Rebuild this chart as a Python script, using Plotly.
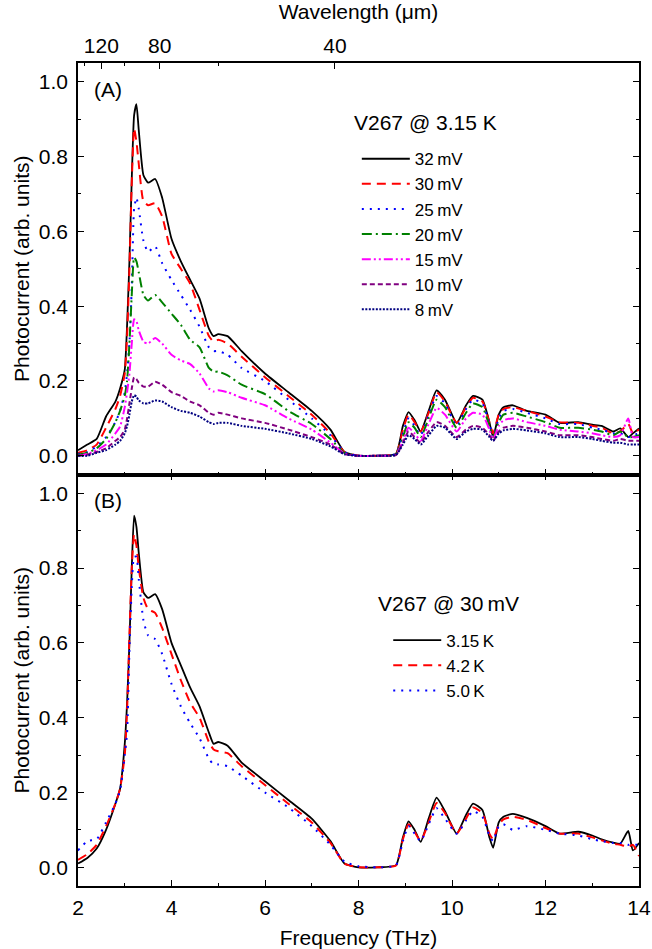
import plotly.graph_objects as go

# ---------------- data ----------------
freq = [2.0, 2.2, 2.4, 2.6, 2.8, 2.9, 3.0, 3.05, 3.1, 3.15,
        3.2, 3.25, 3.3, 3.4, 3.5, 3.65, 3.8, 4.0, 4.2, 4.4,
        4.6, 4.8, 4.9, 5.0, 5.2, 5.5, 6.0, 6.5, 7.0, 7.4,
        7.7, 8.0, 8.4, 8.8, 8.95, 9.07, 9.2, 9.33, 9.5, 9.67,
        9.85, 10.1, 10.3, 10.45, 10.65, 10.8, 10.88, 11.0, 11.1, 11.3,
        11.6, 12.0, 12.3, 12.7, 13.0, 13.2, 13.45, 13.6, 13.77, 13.87,
        14.0]

# Panel A: bias dependence at 3.15 K
pc_32mV = [0.015, 0.03, 0.045, 0.105, 0.145, 0.18, 0.23, 0.35, 0.52, 0.74,
           0.91, 0.94, 0.87, 0.75, 0.73, 0.74, 0.69, 0.58, 0.52, 0.47,
           0.42, 0.34, 0.32, 0.325, 0.32, 0.28, 0.22, 0.17, 0.12, 0.07,
           0.01, 0.0, 0.0, 0.005, 0.08, 0.117, 0.095, 0.065, 0.12, 0.175,
           0.15, 0.088, 0.135, 0.16, 0.15, 0.09, 0.05, 0.11, 0.13, 0.135,
           0.12, 0.11, 0.088, 0.09, 0.083, 0.08, 0.065, 0.073, 0.05, 0.06,
           0.073]
pc_30mV = [0.008, 0.015, 0.03, 0.075, 0.125, 0.16, 0.22, 0.32, 0.5, 0.73,
           0.875, 0.84, 0.78, 0.68, 0.67, 0.675, 0.64, 0.54, 0.5, 0.46,
           0.39, 0.32, 0.305, 0.31, 0.3, 0.265, 0.21, 0.16, 0.11, 0.06,
           0.01, 0.0, 0.0, 0.005, 0.07, 0.11, 0.09, 0.065, 0.115, 0.17,
           0.145, 0.088, 0.13, 0.155, 0.145, 0.09, 0.06, 0.11, 0.125, 0.13,
           0.12, 0.105, 0.09, 0.088, 0.08, 0.075, 0.06, 0.065, 0.085, 0.06,
           0.07]
pc_25mV = [0.005, 0.01, 0.025, 0.05, 0.09, 0.12, 0.17, 0.22, 0.3, 0.45,
           0.66, 0.69, 0.66, 0.575, 0.545, 0.56, 0.515, 0.47, 0.43, 0.39,
           0.345, 0.29, 0.28, 0.28, 0.27, 0.235, 0.2, 0.15, 0.1, 0.055,
           0.01, 0.0, 0.0, 0.005, 0.06, 0.1, 0.08, 0.055, 0.11, 0.16,
           0.14, 0.08, 0.125, 0.15, 0.14, 0.085, 0.05, 0.1, 0.12, 0.125,
           0.115, 0.1, 0.085, 0.085, 0.075, 0.07, 0.06, 0.06, 0.05, 0.055,
           0.06]
pc_20mV = [0.003, 0.008, 0.02, 0.045, 0.09, 0.12, 0.16, 0.2, 0.3, 0.43,
           0.53, 0.52, 0.49, 0.43, 0.415, 0.43, 0.41, 0.38, 0.35, 0.31,
           0.29, 0.235, 0.225, 0.225, 0.215, 0.19, 0.165, 0.12, 0.085, 0.045,
           0.008, 0.0, 0.0, 0.004, 0.05, 0.09, 0.075, 0.05, 0.1, 0.15,
           0.13, 0.075, 0.115, 0.14, 0.13, 0.08, 0.05, 0.09, 0.11, 0.115,
           0.105, 0.09, 0.075, 0.075, 0.07, 0.065, 0.055, 0.065, 0.05, 0.05,
           0.055]
pc_15mV = [0.0, 0.005, 0.015, 0.03, 0.06, 0.078, 0.13, 0.17, 0.22, 0.3,
           0.365, 0.36, 0.335, 0.305, 0.3, 0.315, 0.3, 0.27, 0.255, 0.245,
           0.22, 0.18, 0.172, 0.175, 0.17, 0.155, 0.135, 0.1, 0.07, 0.035,
           0.006, 0.0, 0.0, 0.003, 0.04, 0.075, 0.06, 0.04, 0.085, 0.128,
           0.11, 0.065, 0.1, 0.115, 0.11, 0.07, 0.045, 0.08, 0.095, 0.1,
           0.09, 0.08, 0.07, 0.065, 0.06, 0.055, 0.05, 0.055, 0.1, 0.05,
           0.05]
pc_10mV = [0.0, 0.003, 0.01, 0.02, 0.04, 0.05, 0.07, 0.1, 0.14, 0.18,
           0.21, 0.205, 0.195, 0.185, 0.185, 0.198, 0.19, 0.17, 0.16, 0.145,
           0.135, 0.115, 0.11, 0.115, 0.11, 0.1, 0.088, 0.07, 0.05, 0.03,
           0.005, 0.0, 0.0, 0.002, 0.035, 0.065, 0.05, 0.035, 0.065, 0.09,
           0.08, 0.05, 0.07, 0.08, 0.075, 0.055, 0.04, 0.065, 0.075, 0.08,
           0.075, 0.065, 0.055, 0.055, 0.05, 0.045, 0.04, 0.045, 0.04, 0.04,
           0.04]
pc_8mV = [0.0, 0.0, 0.008, 0.015, 0.03, 0.04, 0.06, 0.08, 0.11, 0.145,
          0.162, 0.158, 0.148, 0.14, 0.14, 0.148, 0.145, 0.13, 0.12, 0.115,
          0.105, 0.09, 0.085, 0.088, 0.088, 0.08, 0.072, 0.06, 0.045, 0.025,
          0.004, 0.0, 0.0, 0.002, 0.03, 0.055, 0.045, 0.03, 0.055, 0.08,
          0.075, 0.045, 0.065, 0.072, 0.07, 0.05, 0.04, 0.06, 0.068, 0.072,
          0.068, 0.06, 0.05, 0.05, 0.045, 0.04, 0.035, 0.035, 0.03, 0.03,
          0.03]

# Panel B: temperature dependence at 30 mV
pc_315K = [0.01, 0.025, 0.05, 0.1, 0.17, 0.21, 0.33, 0.44, 0.6, 0.8,
           0.94, 0.91, 0.84, 0.735, 0.72, 0.73, 0.69, 0.6, 0.54, 0.48,
           0.43, 0.36, 0.33, 0.335, 0.325, 0.28, 0.23, 0.18, 0.13, 0.07,
           0.01, 0.0, 0.0, 0.005, 0.08, 0.123, 0.1, 0.068, 0.13, 0.186,
           0.15, 0.09, 0.14, 0.17, 0.153, 0.08, 0.052, 0.12, 0.135, 0.143,
           0.132, 0.11, 0.09, 0.095, 0.085, 0.075, 0.066, 0.063, 0.097, 0.045,
           0.065]
pc_42K = [0.02, 0.035, 0.06, 0.11, 0.17, 0.21, 0.3, 0.42, 0.62, 0.8,
          0.89, 0.86, 0.8, 0.72, 0.69, 0.68, 0.64, 0.57, 0.5, 0.44,
          0.4, 0.335, 0.315, 0.31, 0.305, 0.27, 0.22, 0.17, 0.12, 0.065,
          0.01, 0.0, 0.0, 0.005, 0.075, 0.115, 0.095, 0.07, 0.12, 0.172,
          0.145, 0.09, 0.13, 0.16, 0.145, 0.09, 0.075, 0.115, 0.128, 0.135,
          0.127, 0.105, 0.09, 0.09, 0.08, 0.072, 0.063, 0.06, 0.055, 0.06,
          0.03]
pc_50K = [0.045, 0.07, 0.075, 0.12, 0.17, 0.205, 0.3, 0.36, 0.58, 0.75,
          0.83, 0.83, 0.77, 0.66, 0.62, 0.61, 0.57, 0.49, 0.43, 0.385,
          0.345, 0.29, 0.275, 0.275, 0.27, 0.245, 0.2, 0.16, 0.11, 0.06,
          0.015, 0.003, 0.0, 0.005, 0.07, 0.11, 0.09, 0.07, 0.115, 0.158,
          0.13, 0.09, 0.125, 0.15, 0.135, 0.085, 0.07, 0.11, 0.115, 0.1,
          0.11, 0.1, 0.09, 0.085, 0.075, 0.07, 0.065, 0.065, 0.06, 0.06,
          0.06]

names_A = ["32\u2009mV", "30\u2009mV", "25\u2009mV", "20\u2009mV", "15\u2009mV", "10\u2009mV", "8\u2009mV"]
series_A = [pc_32mV, pc_30mV, pc_25mV, pc_20mV, pc_15mV, pc_10mV, pc_8mV]
names_B = ["3.15\u2009K", "4.2\u2009K", "5.0\u2009K"]
series_B = [pc_315K, pc_42K, pc_50K]

# top axis: wavelength (um) labels, placed at c/lambda in THz
wl_major = [120, 80, 40]
wl_minor = [140, 100, 60]
C_UM_THZ = 299.792458

# ---------------- styles ----------------
FONT = "Liberation Sans, Arial, sans-serif"
FS = 21
styles_A = [
    dict(color="#000000", dash="solid", width=1.8),
    dict(color="#FF0000", dash="9px,6px", width=2),
    dict(color="#0000FF", dash="2px,6px", width=2),
    dict(color="#008000", dash="10px,4px,2px,4px", width=2),
    dict(color="#FF00FF", dash="9px,3px,2px,3px,2px,3px", width=2),
    dict(color="#800080", dash="5px,3px", width=2),
    dict(color="#000080", dash="2px,1.5px", width=2),
]
styles_B = styles_A[:3]

fig = go.Figure()
for nm, vals, st in zip(names_A, series_A, styles_A):
    fig.add_trace(go.Scatter(x=freq, y=vals, mode="lines", name=nm,
                             line=dict(shape="spline", smoothing=0.5, **st),
                             xaxis="x", yaxis="y", legend="legend", legendgroup="A" + nm))
for nm, vals, st in zip(names_B, series_B, styles_B):
    fig.add_trace(go.Scatter(x=freq, y=vals, mode="lines", name=nm,
                             line=dict(shape="spline", smoothing=0.5, **st),
                             xaxis="x2", yaxis="y2", legend="legend2", legendgroup="B" + nm))
# invisible copy on the top (wavelength) axis so that axis gets drawn
fig.add_trace(go.Scatter(x=freq, y=pc_32mV, mode="lines", line=dict(width=0, color="rgba(0,0,0,0)"),
                         xaxis="x3", yaxis="y", showlegend=False, hoverinfo="skip"))

tfont = dict(family=FONT, size=FS, color="black")
axis_common = dict(showline=True, linecolor="black", linewidth=1.5, showgrid=False, zeroline=False,
                   ticks="inside", ticklen=6, tickwidth=1.2, tickcolor="black", tickfont=tfont)
x_common = dict(axis_common, range=[2, 14], tick0=2, dtick=2,
                minor=dict(dtick=1, ticks="inside", ticklen=3, tickwidth=1.2, tickcolor="black"))
y_common = dict(axis_common, range=[-0.05, 1.05], tick0=0, dtick=0.2, tickformat=".1f",
                mirror="ticks", ticklabelstandoff=4,
                minor=dict(dtick=0.1, ticks="inside", ticklen=3, tickwidth=1.2, tickcolor="black"),
                title=dict(text="Photocurrent (arb. units)", standoff=3, font=tfont))

fig.update_layout(
    width=652, height=949,
    margin=dict(l=78, r=13, t=63, b=63, autoexpand=False),
    paper_bgcolor="white", plot_bgcolor="white",
    font=tfont,
    xaxis=dict(x_common, anchor="y", showticklabels=False),
    xaxis2=dict(x_common, anchor="y2", mirror="ticks", ticklabelstandoff=2,
                title=dict(text="Frequency (THz)", standoff=12, font=tfont)),
    xaxis3=dict(axis_common, overlaying="x", side="top", anchor="y", range=[2, 14],
                tickmode="array",
                tickvals=[C_UM_THZ / w for w in wl_major],
                ticktext=[str(w) for w in wl_major],
                minor=dict(tickvals=[C_UM_THZ / w for w in wl_minor], ticks="inside",
                           ticklen=3, tickwidth=1.2, tickcolor="black"),
                title=dict(text="Wavelength (\u03bcm)", standoff=11, font=tfont)),
    yaxis=dict(y_common, domain=[0.5, 1.0], anchor="x"),
    yaxis2=dict(y_common, domain=[0.0, 0.5], anchor="x2"),
    legend=dict(x=0.497, y=0.905, xanchor="left", yanchor="top", bgcolor="rgba(0,0,0,0)",
                font=dict(family=FONT, size=17, color="black"), tracegroupgap=0,
                itemwidth=48),
    legend2=dict(x=0.553, y=0.32, xanchor="left", yanchor="top", bgcolor="rgba(0,0,0,0)",
                 font=dict(family=FONT, size=17, color="black"), tracegroupgap=0,
                 itemwidth=48),
    annotations=[
        dict(text="(A)", x=2.3, y=0.98, xref="x", yref="y", xanchor="left", yanchor="middle",
             showarrow=False, font=tfont),
        dict(text="(B)", x=2.3, y=0.98, xref="x2", yref="y2", xanchor="left", yanchor="middle",
             showarrow=False, font=tfont),
        dict(text="V267 @ 3.15 K", x=7.86, y=0.89, xref="x", yref="y", xanchor="left",
             yanchor="middle", showarrow=False, font=tfont),
        dict(text="V267 @ 30\u2009mV", x=8.37, y=0.706, xref="x2", yref="y2", xanchor="left",
             yanchor="middle", showarrow=False, font=tfont),
    ],
)

fig.write_html("out.html")
